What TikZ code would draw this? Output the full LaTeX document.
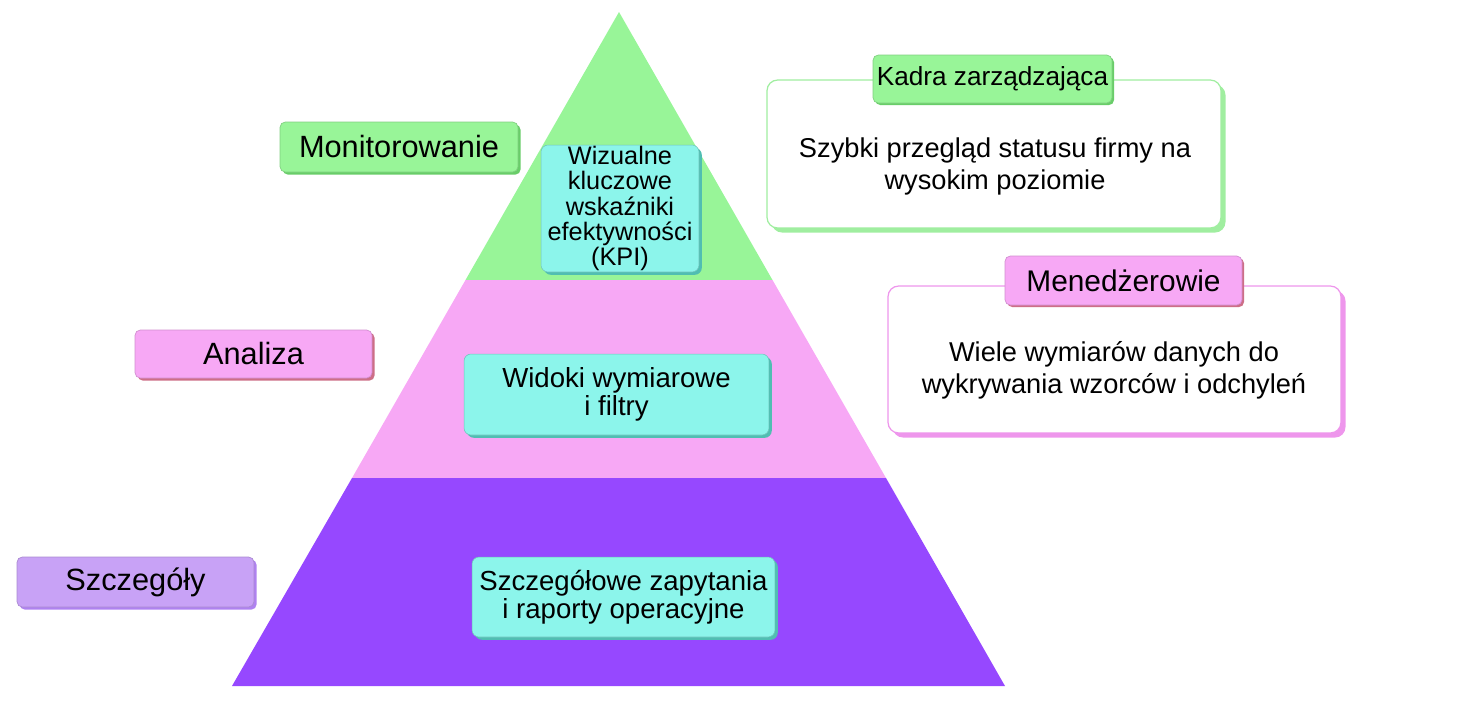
\documentclass[tikz,border=0pt]{standalone}
\usepackage{fontspec}
\setmainfont{Liberation Sans}
\usepackage{tikz}
\usetikzlibrary{shadows}

\definecolor{levelgreen}{RGB}{152,245,152}
\definecolor{levelpink}{RGB}{247,168,245}
\definecolor{levelpurple}{RGB}{150,72,255}
\definecolor{kpicyan}{RGB}{140,245,235}
\definecolor{kpishadow}{RGB}{80,190,178}
\definecolor{tagpurple}{RGB}{200,162,246}
\definecolor{greenshadow}{RGB}{105,205,105}
\definecolor{pinkshadow}{RGB}{205,110,135}
\definecolor{purpleshadow}{RGB}{175,130,240}
\definecolor{boxgreen}{RGB}{160,238,160}
\definecolor{boxpink}{RGB}{238,150,236}

\tikzset{
    lvltag/.style={rounded corners=3pt, draw=#1!85!black, line width=0.4pt, fill=#1,
        font=\fontsize{17.5pt}{20pt}\selectfont, inner sep=0pt},
    cyanbox/.style={rounded corners=4pt, fill=kpicyan, draw=kpicyan!80!black, line width=0.3pt,
        align=center, inner sep=0pt,
        drop shadow={shadow xshift=1.6pt, shadow yshift=-1.6pt, fill=kpishadow, opacity=1}},
    notebox/.style={rounded corners=6pt, fill=white, draw=#1, line width=0.7pt, inner sep=0pt,
        drop shadow={shadow xshift=2.6pt, shadow yshift=-2.6pt, fill=#1, opacity=1}},
    notetext/.style={align=center, font=\fontsize{15.5pt}{18.2pt}\selectfont},
}

\begin{document}
\begin{tikzpicture}[x=0.02cm, y=-0.02cm]
        \useasboundingbox (0,0) rectangle (1472,704);
        % pyramid
        \coordinate (apex) at (619,12);
        \coordinate (gl) at (465.5,280);
        \coordinate (gr) at (772.5,280);
        \coordinate (pl) at (352,478);
        \coordinate (pr) at (886,478);
        \coordinate (bl) at (232,686);
        \coordinate (br) at (1005,686);
        \fill[levelgreen] (apex) -- (gr) -- (gl) -- cycle;
        \fill[levelpink] (gl) -- (gr) -- (pr) -- (pl) -- cycle;
        \fill[levelpurple] (pl) -- (pr) -- (br) -- (bl) -- cycle;

        % levels, left
        \node[lvltag=levelgreen, minimum width=4.76cm, minimum height=1.0cm,
            drop shadow={shadow xshift=1.5pt, shadow yshift=-1.5pt, fill=greenshadow, opacity=1}]
            (mon) at (399,147) {Monitorowanie};
        \node[lvltag=levelpink, minimum width=4.74cm, minimum height=0.96cm,
            drop shadow={shadow xshift=1.5pt, shadow yshift=-1.5pt, fill=pinkshadow, opacity=1}]
            (ana) at (253.5,354) {Analiza};
        \node[lvltag=tagpurple, minimum width=4.74cm, minimum height=1.0cm,
            drop shadow={shadow xshift=1.5pt, shadow yshift=-1.5pt, fill=purpleshadow, opacity=1}]
            (det) at (135.5,582) {Szczegóły};

        % content of each level
        \node[cyanbox, minimum width=3.16cm, minimum height=2.54cm,
            font=\fontsize{14.4pt}{14.3pt}\selectfont]
            (kpi) at (620,208.5) {Wizualne\\kluczowe\\wskaźniki\\efektywności\\(KPI)};
        \node[cyanbox, minimum width=6.1cm, minimum height=1.62cm,
            font=\fontsize{15.7pt}{16pt}\selectfont]
            (dim) at (616.5,394.5) {Widoki wymiarowe\\i filtry};
        \node[cyanbox, minimum width=6.06cm, minimum height=1.6cm,
            font=\fontsize{15.7pt}{16pt}\selectfont]
            (ops) at (623.5,597) {Szczegółowe zapytania\\i raporty operacyjne};

        % users, right
        \node[notebox=boxgreen, minimum width=9.08cm, minimum height=2.96cm] (exec) at (994,154) {};
        \node[notetext] (exectext) at (995,166) {Szybki przegląd statusu firmy na\\wysokim poziomie};
        \node[lvltag=levelgreen, minimum width=4.78cm, minimum height=0.96cm,
            font=\fontsize{14.9pt}{16pt}\selectfont,
            drop shadow={shadow xshift=1.2pt, shadow yshift=-1.2pt, fill=greenshadow, opacity=1}]
            (exectag) at (992.5,79) {Kadra zarządzająca};

        \node[notebox=boxpink, minimum width=9.06cm, minimum height=2.94cm] (mgr) at (1114.5,359.5) {};
        \node[notetext] (mgrtext) at (1114,370) {Wiele wymiarów danych do\\wykrywania wzorców i odchyleń};
        \node[lvltag=levelpink, minimum width=4.74cm, minimum height=0.98cm,
            font=\fontsize{17pt}{19pt}\selectfont,
            drop shadow={shadow xshift=1.2pt, shadow yshift=-1.2pt, fill=pinkshadow, opacity=1}]
            (mgrtag) at (1123.5,280.5) {Menedżerowie};
    \end{tikzpicture}
\end{document}
